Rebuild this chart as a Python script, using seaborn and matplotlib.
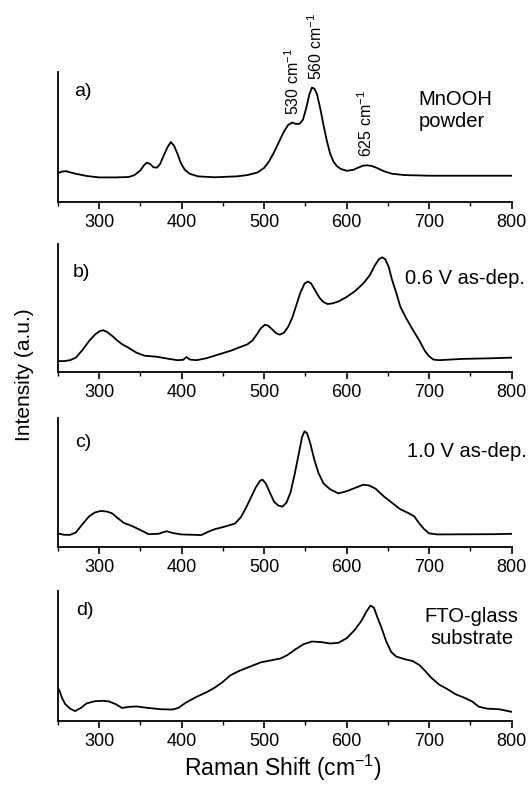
import matplotlib
matplotlib.use("Agg")
import matplotlib.pyplot as plt
import seaborn as sns
import pandas as pd
from matplotlib.ticker import MultipleLocator

# Raman shift (cm^-1) and relative intensity for each sample
shift_a = [250, 255, 260, 265, 272, 285, 300, 320, 336, 343, 350, 355, 358, 362, 366,
           370, 374, 378, 383, 387, 391, 395, 399, 404, 410, 420, 440, 467, 480, 492,
           500, 506, 512, 518, 524, 529, 534, 538, 543, 547, 551, 555, 558, 561, 564,
           568, 572, 576, 580, 584, 588, 593, 600, 608, 614, 620, 625, 630, 636, 645,
           655, 670, 700, 750, 800]
int_a = [0.218, 0.232, 0.235, 0.226, 0.215, 0.198, 0.187, 0.187, 0.19, 0.205, 0.24,
         0.285, 0.30, 0.29, 0.265, 0.262, 0.29, 0.35, 0.42, 0.46, 0.43, 0.37, 0.30,
         0.245, 0.215, 0.195, 0.188, 0.195, 0.205, 0.225, 0.26, 0.31, 0.38, 0.46, 0.54,
         0.59, 0.61, 0.60, 0.60, 0.63, 0.72, 0.83, 0.88, 0.87, 0.83, 0.72, 0.59, 0.47,
         0.37, 0.31, 0.275, 0.252, 0.238, 0.245, 0.262, 0.278, 0.28, 0.276, 0.262,
         0.235, 0.215, 0.205, 0.20, 0.20, 0.20]

shift_b = [250, 258, 265, 272, 280, 288, 295, 301, 305, 310, 316, 322, 328, 335, 345,
           355, 370, 385, 395, 402, 406, 410, 418, 430, 445, 460, 472, 480, 486, 491,
           496, 501, 505, 510, 515, 519, 524, 529, 534, 539, 544, 549, 553, 557, 562,
           567, 572, 577, 583, 590, 600, 610, 620, 628, 634, 639, 643, 647, 651, 655,
           660, 665, 672, 680, 688, 695, 700, 705, 712, 740, 775, 800]
int_b = [0.083, 0.083, 0.09, 0.11, 0.17, 0.24, 0.29, 0.318, 0.325, 0.31, 0.28, 0.245,
         0.215, 0.19, 0.15, 0.125, 0.117, 0.10, 0.09, 0.093, 0.115, 0.095, 0.09, 0.105,
         0.135, 0.165, 0.195, 0.215, 0.245, 0.29, 0.34, 0.368, 0.36, 0.33, 0.30, 0.29,
         0.305, 0.35, 0.42, 0.52, 0.62, 0.69, 0.706, 0.69, 0.635, 0.58, 0.545, 0.53,
         0.535, 0.55, 0.585, 0.63, 0.69, 0.755, 0.83, 0.88, 0.896, 0.88, 0.82, 0.72,
         0.62, 0.51, 0.42, 0.33, 0.245, 0.16, 0.12, 0.095, 0.09, 0.10, 0.105, 0.11]

shift_c = [250, 258, 265, 272, 280, 288, 295, 302, 310, 316, 322, 330, 340, 350, 360,
           372, 382, 390, 400, 415, 424, 432, 440, 452, 465, 472, 478, 484, 490, 495,
           498, 502, 507, 512, 517, 522, 527, 532, 537, 542, 546, 549, 552, 556, 561,
           566, 572, 580, 590, 600, 610, 620, 627, 635, 645, 655, 665, 675, 682, 688,
           694, 700, 710, 740, 780, 800]
int_c = [0.103, 0.092, 0.092, 0.11, 0.175, 0.235, 0.265, 0.277, 0.272, 0.258, 0.225,
         0.185, 0.16, 0.13, 0.097, 0.10, 0.12, 0.105, 0.095, 0.092, 0.09, 0.115, 0.135,
         0.155, 0.18, 0.23, 0.30, 0.38, 0.46, 0.51, 0.52, 0.49, 0.42, 0.35, 0.32, 0.31,
         0.34, 0.42, 0.56, 0.72, 0.85, 0.895, 0.88, 0.80, 0.67, 0.57, 0.49, 0.445,
         0.413, 0.43, 0.455, 0.48, 0.475, 0.45, 0.39, 0.34, 0.29, 0.26, 0.235, 0.18,
         0.135, 0.103, 0.095, 0.096, 0.097, 0.10]

shift_d = [250, 252, 255, 259, 265, 271, 278, 285, 295, 305, 312, 320, 328, 336, 345,
           360, 375, 389, 396, 405, 418, 430, 440, 450, 459, 470, 482, 496, 508, 520,
           528, 538, 548, 558, 570, 580, 590, 600, 610, 618, 624, 629, 633, 637, 642,
           648, 654, 660, 670, 680, 688, 695, 702, 712, 722, 732, 742, 752, 760, 770,
           785, 800]
int_d = [0.253, 0.235, 0.18, 0.13, 0.095, 0.076, 0.10, 0.135, 0.152, 0.155, 0.15, 0.13,
         0.10, 0.108, 0.112, 0.10, 0.09, 0.088, 0.10, 0.14, 0.185, 0.22, 0.255, 0.30,
         0.35, 0.385, 0.415, 0.45, 0.465, 0.48, 0.505, 0.55, 0.59, 0.61, 0.605, 0.595,
         0.60, 0.635, 0.70, 0.77, 0.84, 0.886, 0.87, 0.80, 0.72, 0.61, 0.53, 0.495,
         0.475, 0.46, 0.43, 0.385, 0.335, 0.28, 0.245, 0.205, 0.18, 0.15, 0.11, 0.095,
         0.09, 0.07]

panel_tags = ["a)", "b)", "c)", "d)"]
sample_names = ["MnOOH\npowder", "0.6 V as-dep.", "1.0 V as-dep.", "FTO-glass\nsubstrate"]
xticks = [300, 400, 500, 600, 700, 800]

# Peak assignments for the MnOOH reference
peak_pos = [534, 562, 623]
peak_height = [0.667, 0.936, 0.346]
peak_text = ["530 cm$^{-1}$", "560 cm$^{-1}$", "625 cm$^{-1}$"]

sns.set_style("ticks")
plt.rcParams["font.family"] = ["Liberation Sans", "DejaVu Sans"]
plt.rcParams["mathtext.fontset"] = "custom"
plt.rcParams["mathtext.rm"] = "Liberation Sans"
plt.rcParams["text.color"] = "black"
plt.rcParams["axes.labelcolor"] = "black"
plt.rcParams["xtick.color"] = "black"

fig = plt.figure(figsize=(5.31, 7.93), dpi=100)
L, W = 0.1087, 0.855
boxes = [(0.7457, 0.1636), (0.5313, 0.1610), (0.3106, 0.1627), (0.0908, 0.1643)]

series = [(shift_a, int_a), (shift_b, int_b), (shift_c, int_c), (shift_d, int_d)]
axes = []
for i, ((xs, ys), (b, h)) in enumerate(zip(series, boxes)):
    ax = fig.add_axes([L, b, W, h])
    df = pd.DataFrame({"shift": xs, "intensity": ys})
    sns.lineplot(data=df, x="shift", y="intensity", ax=ax, color="black",
                 linewidth=1.3, estimator=None, sort=False)
    ax.set_xlim(250, 800)
    ax.set_ylim(0, 1)
    ax.set_xticks(xticks)
    ax.xaxis.set_minor_locator(MultipleLocator(50))
    ax.set_yticks([])
    ax.set_xlabel("")
    ax.set_ylabel("")
    for s in ["top", "right"]:
        ax.spines[s].set_visible(False)
    for s in ["left", "bottom"]:
        ax.spines[s].set_linewidth(1.3)
        ax.spines[s].set_color("black")
    ax.tick_params(axis="x", which="major", direction="out", length=5, width=1.2,
                   labelsize=13, pad=4, colors="black")
    ax.tick_params(axis="x", which="minor", direction="out", length=3, width=1.0,
                   colors="black")
    axes.append(ax)

tag_pos = [(0.037, 0.846), (0.034, 0.774), (0.039, 0.806), (0.041, 0.85)]
for ax, tag, (tx, ty) in zip(axes, panel_tags, tag_pos):
    ax.text(tx, ty, tag, transform=ax.transAxes, fontsize=14, ha="left", va="center")

axes[0].text(0.795, 0.70, sample_names[0], transform=axes[0].transAxes,
             fontsize=14.5, ha="left", va="center", linespacing=1.2)
axes[1].text(1.03, 0.727, sample_names[1], transform=axes[1].transAxes,
             fontsize=14.5, ha="right", va="center")
axes[2].text(1.033, 0.74, sample_names[2], transform=axes[2].transAxes,
             fontsize=14.5, ha="right", va="center")
axes[3].text(0.912, 0.716, sample_names[3], transform=axes[3].transAxes,
             fontsize=14.5, ha="center", va="center", linespacing=1.2)

for x, y, t in zip(peak_pos, peak_height, peak_text):
    axes[0].text(x, y, t, rotation=90, fontsize=11.5, ha="center", va="bottom",
                 clip_on=False)

fig.text(0.5326, 0.012, "Raman Shift (cm$^{-1}$)", ha="center", va="bottom",
         fontsize=16.5)
fig.text(0.047, 0.528, "Intensity (a.u.)", rotation=90, ha="center", va="center",
         fontsize=15)

fig.savefig("out.png", dpi=100, facecolor="white")
